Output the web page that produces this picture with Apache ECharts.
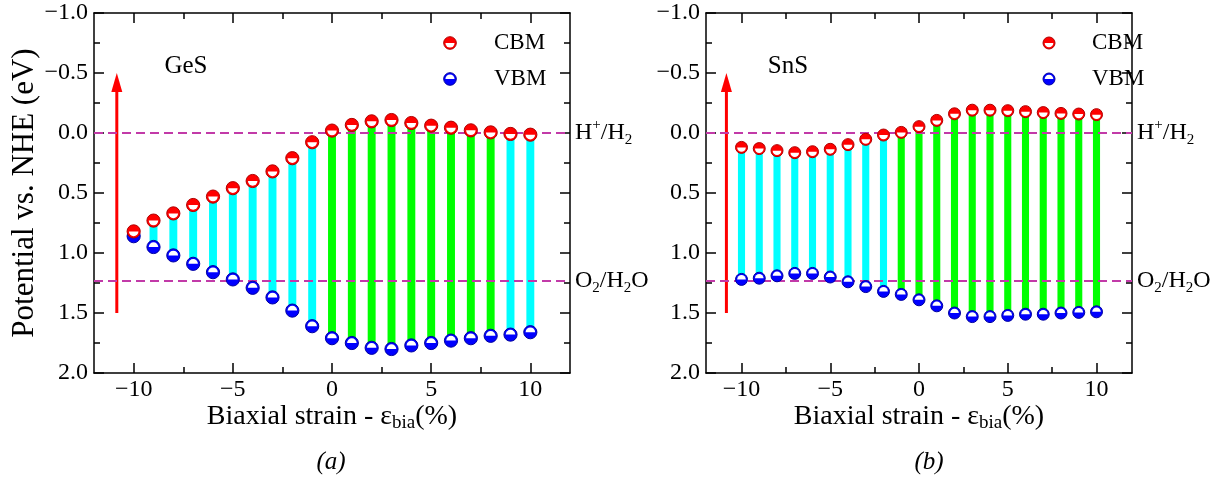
<!DOCTYPE html>
<html>
<head>
<meta charset="utf-8">
<script src="https://cdn.jsdelivr.net/npm/echarts@6/dist/echarts.min.js"></script>
<style>
html,body{margin:0;padding:0;background:#fff;}
#chart{width:1217px;height:481px;}
</style>
</head>
<body>
<div id="chart"></div>
<script>
// ---- data ----
const strain = [-10,-9,-8,-7,-6,-5,-4,-3,-2,-1,0,1,2,3,4,5,6,7,8,9,10];
const gesCBM = [0.82,0.73,0.67,0.60,0.53,0.46,0.40,0.32,0.21,0.077,-0.02,-0.067,-0.097,-0.108,-0.083,-0.061,-0.044,-0.022,-0.005,0.008,0.014];
const gesVBM = [0.86,0.95,1.02,1.09,1.16,1.22,1.29,1.37,1.48,1.61,1.71,1.75,1.79,1.80,1.77,1.75,1.73,1.71,1.69,1.68,1.66];
const snsCBM = [0.12,0.13,0.147,0.164,0.156,0.136,0.097,0.053,0.017,-0.005,-0.053,-0.105,-0.16,-0.19,-0.19,-0.186,-0.178,-0.17,-0.163,-0.158,-0.153];
const snsVBM = [1.22,1.21,1.19,1.17,1.17,1.20,1.24,1.28,1.32,1.345,1.39,1.44,1.50,1.53,1.53,1.52,1.51,1.51,1.50,1.495,1.49];
const xMajorTicks = [-10,-5,0,5,10];
const xMinorTicks = [-7.5,-2.5,2.5,7.5];
const redoxLevels = [0, 1.23];           // H+/H2 and O2/H2O
const arrowSpan = [-10.85, 1.5, -0.5];   // x, from, to
const panelNames = ['GeS','SnS'];
const captions = ['(a)','(b)'];

const FONT = 'Liberation Serif';
const RED = '#ff0000', BLUE = '#0000ff', CYAN = '#00ffff', GREEN = '#00ff00';
const DASH = '#c23aa8';

const minus = v => String(v).replace('-', '\u2212');

const grids = [
  {left:94, top:13, width:476, height:360},
  {left:706, top:13, width:426, height:360}
];

function makeXAxes(g) {
  const base = {gridIndex:g, type:'value', min:-12, max:12, splitLine:{show:false}};
  return [
    Object.assign({}, base, {
      position:'bottom',
      axisLine:{show:true, onZero:false, lineStyle:{color:'#000', width:1.5}},
      axisTick:{show:true, inside:true, length:10, customValues:xMajorTicks, lineStyle:{color:'#000', width:1.5}},
      axisLabel:{show:true, customValues:xMajorTicks, formatter:v=>minus(v), fontFamily:FONT, fontSize:24, color:'#000', margin:5},
      name:'{n|Biaxial strain - \u03b5}{sub|bia}{n|(%)}',
      nameLocation:'middle', nameGap:28, nameMoveOverlap:false,
      nameTextStyle:{fontFamily:FONT, color:'#000', verticalAlign:'top', rich:{
        n:{fontFamily:FONT, fontSize:28, color:'#000', lineHeight:32},
        sub:{fontFamily:FONT, fontSize:19, color:'#000', lineHeight:32, verticalAlign:'bottom', padding:[12,0,0,0]}
      }}
    }),
    Object.assign({}, base, {
      position:'bottom',
      axisLine:{show:false, onZero:false},
      axisTick:{show:true, inside:true, length:6, customValues:xMinorTicks, lineStyle:{color:'#000', width:1.5}},
      axisLabel:{show:false}
    }),
    Object.assign({}, base, {
      position:'top',
      axisLine:{show:true, onZero:false, lineStyle:{color:'#000', width:1.5}},
      axisTick:{show:true, inside:true, length:10, customValues:xMajorTicks, lineStyle:{color:'#000', width:1.5}},
      axisLabel:{show:false}
    }),
    Object.assign({}, base, {
      position:'top',
      axisLine:{show:false, onZero:false},
      axisTick:{show:true, inside:true, length:6, customValues:xMinorTicks, lineStyle:{color:'#000', width:1.5}},
      axisLabel:{show:false}
    })
  ];
}

function makeYAxes(g, withName) {
  const base = {gridIndex:g, type:'value', inverse:true, min:-1, max:2, interval:0.5,
    splitLine:{show:false}, minorSplitLine:{show:false},
    axisLine:{show:true, onZero:false, lineStyle:{color:'#000', width:1.5}},
    axisTick:{show:true, inside:true, length:10, lineStyle:{color:'#000', width:1.5}},
    minorTick:{show:true, splitNumber:2, length:6, lineStyle:{color:'#000', width:1.5}}
  };
  const left = Object.assign({}, base, {
    position:'left',
    axisLabel:{show:true, formatter:v=>minus(v.toFixed(1)), fontFamily:FONT, fontSize:24, color:'#000', margin:6}
  });
  if (withName) {
    left.name = 'Potential vs. NHE (eV)';
    left.nameLocation = 'middle';
    left.nameGap = 53;
    left.nameTextStyle = {fontFamily:FONT, fontSize:31, color:'#000'};
  }
  const right = Object.assign({}, base, {position:'right', axisLabel:{show:false}});
  return [left, right];
}

function barItem(params, api) {
  const x = api.value(0), c = api.value(1), v = api.value(2);
  const p1 = api.coord([x, c]), p2 = api.coord([x, v]);
  const w = api.size([1, 0])[0] * 0.4;
  const col = (c <= 0 && v >= redoxLevels[1]) ? GREEN : CYAN;
  return {type:'rect', shape:{x:p1[0]-w/2, y:Math.min(p1[1],p2[1]), width:w, height:Math.abs(p2[1]-p1[1])}, style:{fill:col}};
}

function markerShape(cx, cy, r, fill, stroke, whiteTop) {
  return [
    {type:'circle', shape:{cx:cx, cy:cy, r:r}, style:{fill:fill, stroke:stroke, lineWidth:1}},
    {type:'sector', shape:{cx:cx, cy:cy, r0:0, r:r*0.72,
      startAngle: whiteTop ? Math.PI : 0, endAngle: whiteTop ? 2*Math.PI : Math.PI, clockwise:true},
      style:{fill:'#fff'}}
  ];
}

function markerRender(fill, stroke, whiteTop, r) {
  return function(params, api) {
    const p = api.coord([api.value(0), api.value(1)]);
    return {type:'group', children: markerShape(p[0], p[1], r, fill, stroke, whiteTop)};
  };
}

function arrowItem(params, api) {
  const x = api.value(0);
  const p1 = api.coord([x, api.value(1)]);
  const p2 = api.coord([x, api.value(2)]);
  const headH = 19, headW = 11;
  return {type:'group', children:[
    {type:'line', shape:{x1:p1[0], y1:p1[1], x2:p2[0], y2:p2[1]+headH-2}, style:{stroke:RED, lineWidth:3}},
    {type:'polygon', shape:{points:[[p2[0], p2[1]], [p2[0]-headW/2, p2[1]+headH], [p2[0]+headW/2, p2[1]+headH]]}, style:{fill:RED}}
  ]};
}

const labelRich = {
  n:{fontFamily:FONT, fontSize:24, color:'#000', lineHeight:30},
  sup:{fontFamily:FONT, fontSize:15, color:'#000', lineHeight:30, verticalAlign:'top', padding:[0,0,10,0]},
  sub:{fontFamily:FONT, fontSize:15, color:'#000', lineHeight:30, verticalAlign:'bottom', padding:[10,0,0,0]}
};

function panelSeries(g, cbm, vbm, r) {
  const xi = g*4, yi = g*2;
  const barData = strain.map((s,i)=>[s, cbm[i], vbm[i]]);
  return [
    {type:'custom', xAxisIndex:xi, yAxisIndex:yi, z:2, renderItem:barItem, encode:{x:0, y:[1,2]}, data:barData, silent:true},
    {type:'line', xAxisIndex:xi, yAxisIndex:yi, z:3, data:[], silent:true,
      markLine:{silent:true, symbol:'none', animation:false,
        lineStyle:{type:[9,5], color:DASH, width:2},
        label:{show:true, position:'end', distance:5, rich:labelRich},
        data:[
          {yAxis:redoxLevels[0], label:{formatter:'{n|H}{sup|+}{n|/H}{sub|2}'}},
          {yAxis:redoxLevels[1], label:{formatter:'{n|O}{sub|2}{n|/H}{sub|2}{n|O}'}}
        ]}},
    {type:'custom', xAxisIndex:xi, yAxisIndex:yi, z:4, renderItem:arrowItem, encode:{x:0, y:[1,2]}, data:[arrowSpan], silent:true},
    {type:'custom', xAxisIndex:xi, yAxisIndex:yi, z:5, renderItem:markerRender(BLUE, '#0000a0', true, r), encode:{x:0, y:1}, data:strain.map((s,i)=>[s, vbm[i]]), silent:true},
    {type:'custom', xAxisIndex:xi, yAxisIndex:yi, z:6, renderItem:markerRender(RED, '#b00000', false, r), encode:{x:0, y:1}, data:strain.map((s,i)=>[s, cbm[i]]), silent:true}
  ];
}

function legendGraphic(mx, tx, r) {
  const items = [];
  items.push({type:'group', children: markerShape(mx, 43, r, RED, '#b00000', false)});
  items.push({type:'group', children: markerShape(mx, 79, r, BLUE, '#0000a0', true)});
  items.push({type:'text', x:tx, y:43, style:{text:'CBM', fontFamily:FONT, fontSize:23, fill:'#000', verticalAlign:'middle', align:'left'}});
  items.push({type:'text', x:tx, y:79, style:{text:'VBM', fontFamily:FONT, fontSize:23, fill:'#000', verticalAlign:'middle', align:'left'}});
  return items;
}

const graphic = [].concat(
  legendGraphic(450, 494, 6.3),
  legendGraphic(1049, 1092, 6),
  [
    {type:'text', x:186, y:66, style:{text:panelNames[0], fontFamily:FONT, fontSize:25, fill:'#000', align:'center', verticalAlign:'middle'}},
    {type:'text', x:788, y:66, style:{text:panelNames[1], fontFamily:FONT, fontSize:25, fill:'#000', align:'center', verticalAlign:'middle'}},
    {type:'text', x:331, y:462, style:{text:captions[0], fontFamily:FONT, fontStyle:'italic', fontSize:25, fill:'#000', align:'center', verticalAlign:'middle'}},
    {type:'text', x:929, y:462, style:{text:captions[1], fontFamily:FONT, fontStyle:'italic', fontSize:25, fill:'#000', align:'center', verticalAlign:'middle'}}
  ]
);

const chart = echarts.init(document.getElementById('chart'), null, {renderer:'canvas'});
chart.setOption({
  animation:false,
  backgroundColor:'#fff',
  grid:grids,
  xAxis:[].concat(makeXAxes(0), makeXAxes(1)),
  yAxis:[].concat(makeYAxes(0, true), makeYAxes(1, false)),
  series:[].concat(panelSeries(0, gesCBM, gesVBM, 6.6), panelSeries(1, snsCBM, snsVBM, 6)),
  graphic:graphic
});
</script>
</body>
</html>
